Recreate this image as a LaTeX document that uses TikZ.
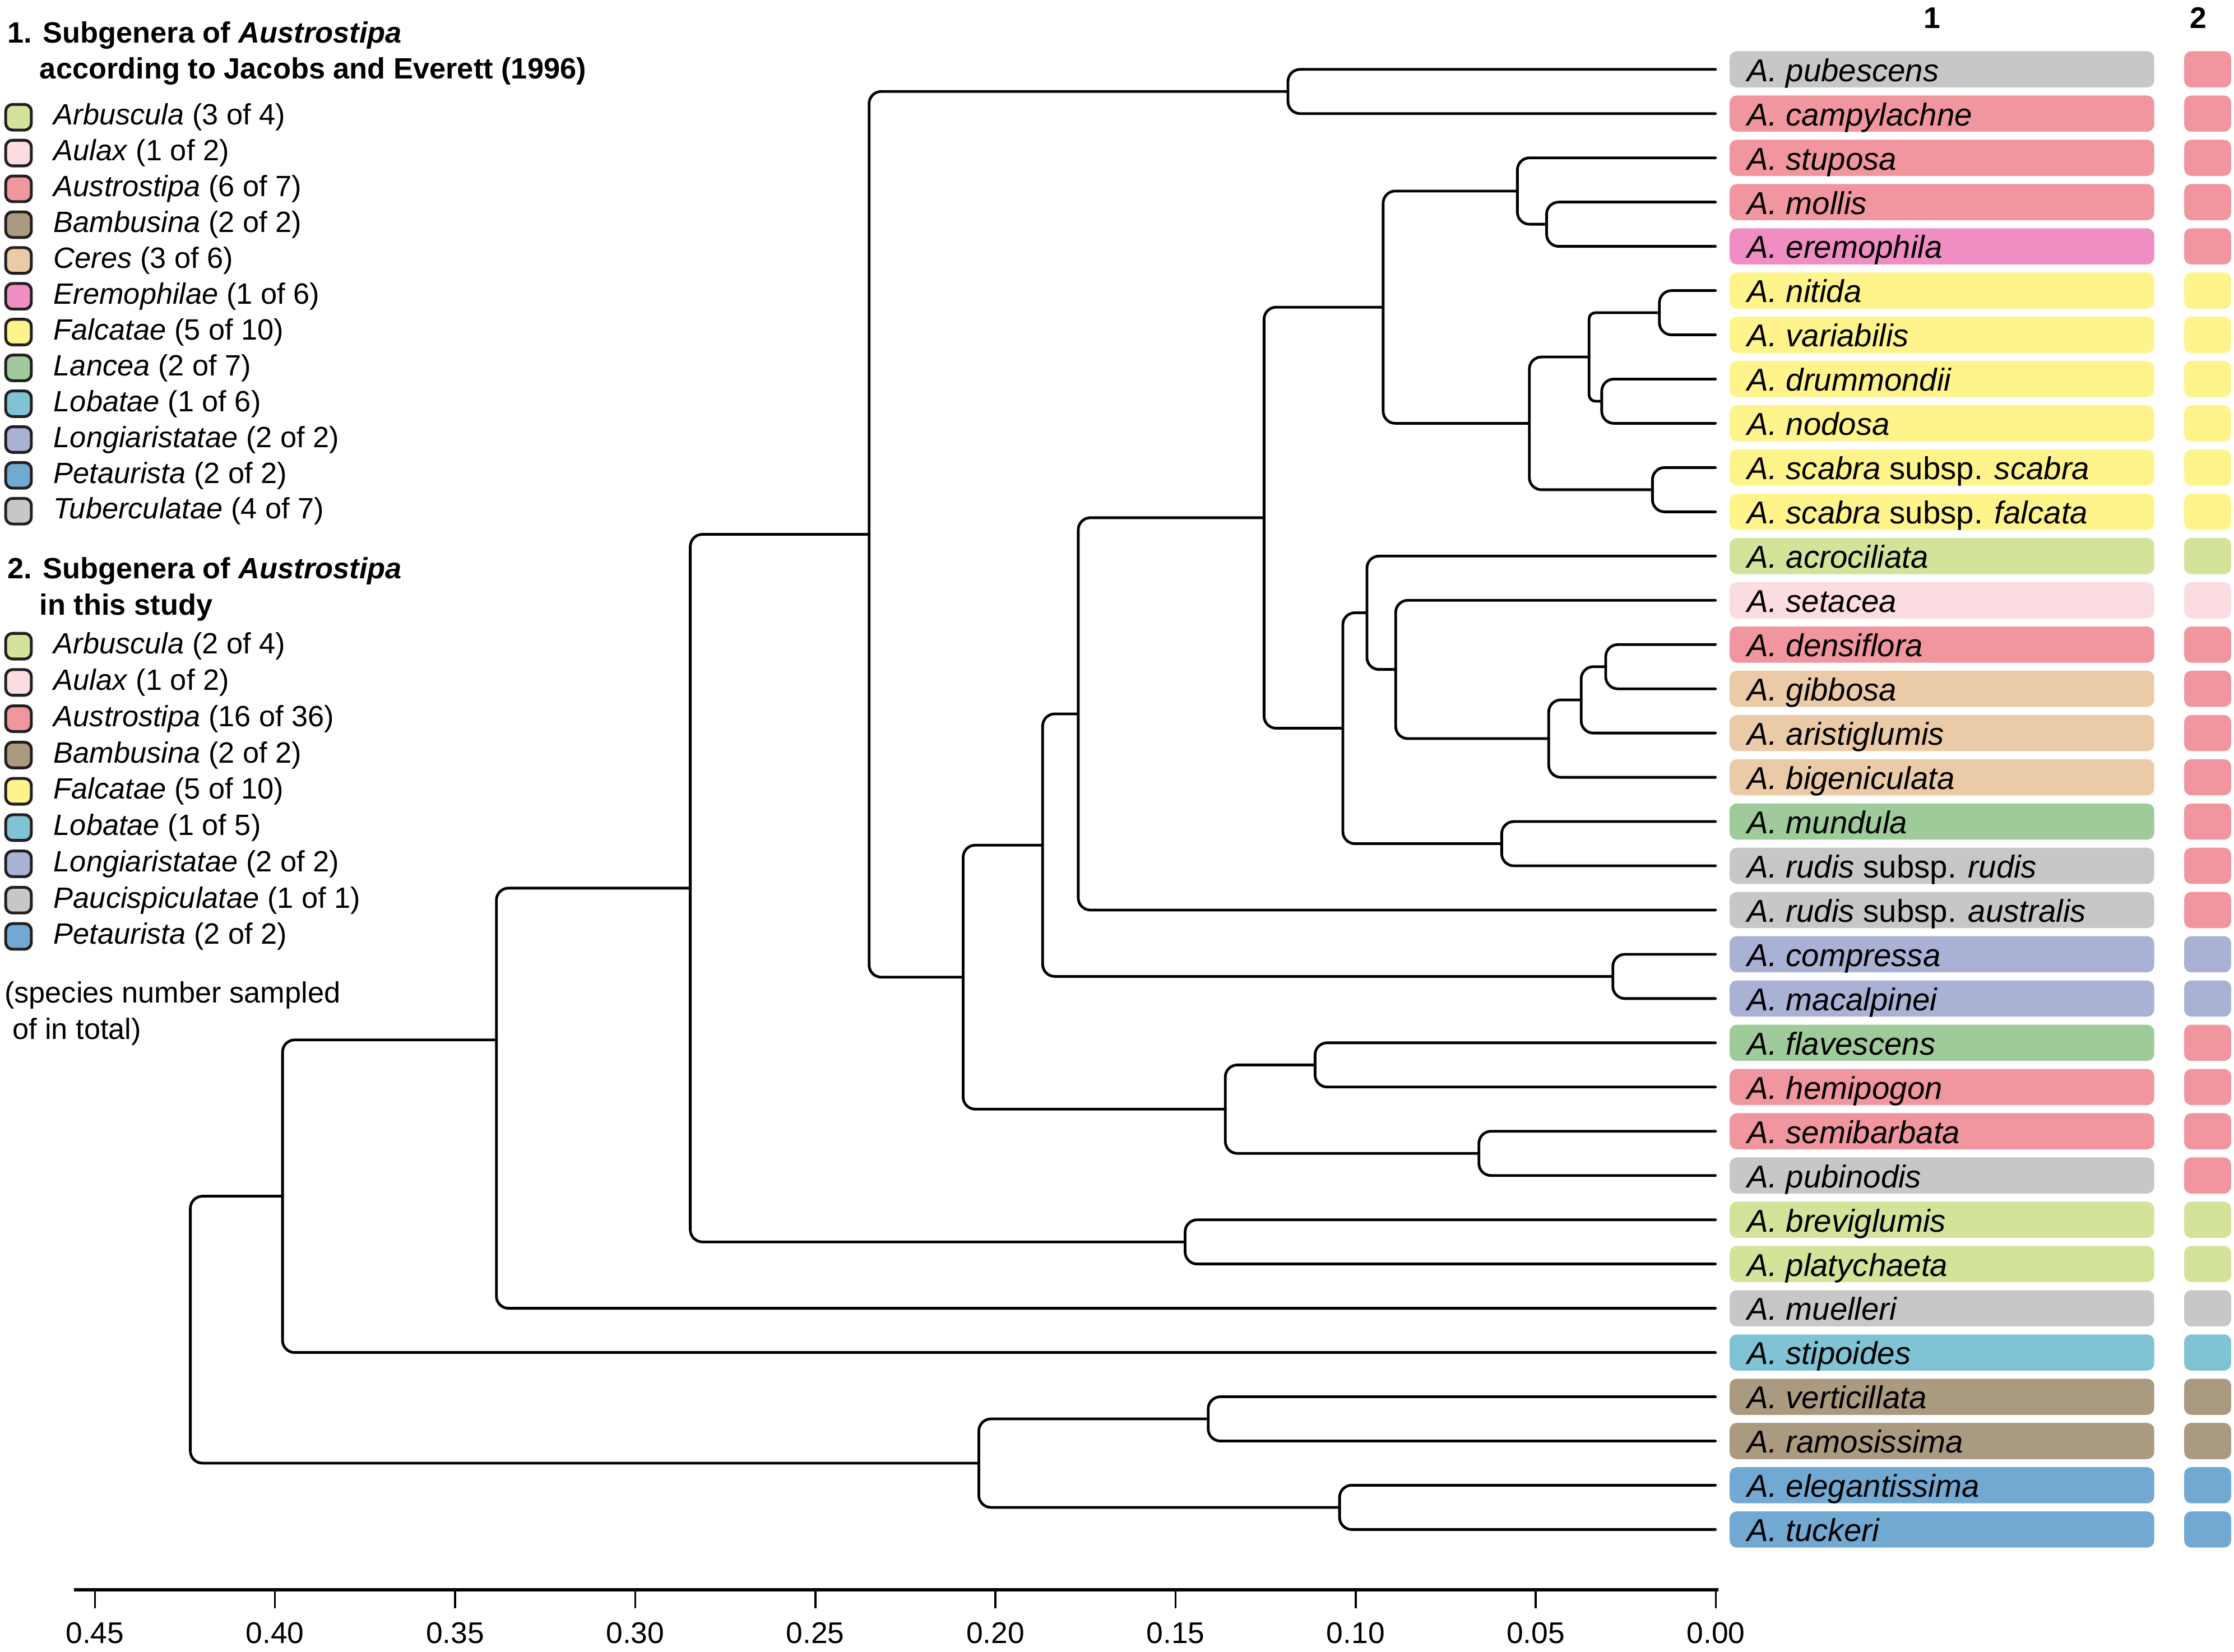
\documentclass[tikz,border=0pt]{standalone}
\usepackage{fontspec}
\setmainfont{Liberation Sans}
\usetikzlibrary{calc}
\definecolor{cGray}{HTML}{C6C7C9}
\definecolor{cPink}{HTML}{F1959E}
\definecolor{cErem}{HTML}{F08DC3}
\definecolor{cYel}{HTML}{FFF48B}
\definecolor{cArb}{HTML}{D3E39A}
\definecolor{cAul}{HTML}{FADCE1}
\definecolor{cCer}{HTML}{EBCBA7}
\definecolor{cLan}{HTML}{9FCB9A}
\definecolor{cLon}{HTML}{A9B1D4}
\definecolor{cLob}{HTML}{80C3D4}
\definecolor{cBam}{HTML}{AA9A80}
\definecolor{cPet}{HTML}{72A9D2}
\definecolor{outl}{HTML}{231F20}
\tikzset{
  branch/.style={line width=0.95pt, line cap=round, line join=round},
  taxbox/.style={draw=none, rounded corners=2.5pt, minimum height=12.7pt, inner sep=0pt, outer sep=0pt},
  sptext/.style={anchor=base west, inner sep=0pt, font=\fontsize{11.1}{13}\selectfont},
  legsq/.style={draw=outl, line width=1pt, rounded corners=2.4pt, minimum size=9pt, inner sep=0pt},
  legtext/.style={anchor=base west, inner sep=0pt, font=\fontsize{10.3}{12}\selectfont},
  legtitle/.style={anchor=base west, inner sep=0pt, font=\fontsize{10.3}{12}\selectfont\bfseries},
  axisline/.style={line width=1pt},
  ticktext/.style={inner sep=0pt, font=\fontsize{10.5}{12}\selectfont},
  headtext/.style={inner sep=0pt, font=\fontsize{10.5}{12}\selectfont\bfseries}
}
% draw the two branches of a clade: #1 node, #2 upper child, #3 lower child
\newcommand\drawclade[3]{%
  \draw[branch] let \p1=(#2), \p2=(#3), \p3=(#1),
    \n1={min(4.25,0.5*(\x1-\x3),0.5*(\x2-\x3))} in
    [rounded corners=\n1] (#2) -- (#2 -| #1) -- (#3 -| #1) -- (#3);
}
% clade with node at given x and midpoint height: #1 name, #2 x, #3 upper, #4 lower
\newcommand\clade[4]{%
  \path let \p1=(#3), \p2=(#4) in coordinate (#1) at ({#2*0.5pt},{0.5*(\y1+\y2)});
  \drawclade{#1}{#3}{#4}%
}
\begin{document}
\begin{tikzpicture}[x=0.5pt,y=-0.5pt]
\useasboundingbox (0,0) rectangle (1568,1159.3);

% column headers
\node[headtext] (h1) at (1356,12.5) {1};
\node[headtext] (h2) at (1543,12.5) {2};

% taxa
\foreach \i/\nm/\ca/\cb in {
0/{\textit{A. pubescens}}/cGray/cPink,
1/{\textit{A. campylachne}}/cPink/cPink,
2/{\textit{A. stuposa}}/cPink/cPink,
3/{\textit{A. mollis}}/cPink/cPink,
4/{\textit{A. eremophila}}/cErem/cPink,
5/{\textit{A. nitida}}/cYel/cYel,
6/{\textit{A. variabilis}}/cYel/cYel,
7/{\textit{A. drummondii}}/cYel/cYel,
8/{\textit{A. nodosa}}/cYel/cYel,
9/{\textit{A. scabra} subsp. \textit{scabra}}/cYel/cYel,
10/{\textit{A. scabra} subsp. \textit{falcata}}/cYel/cYel,
11/{\textit{A. acrociliata}}/cArb/cArb,
12/{\textit{A. setacea}}/cAul/cAul,
13/{\textit{A. densiflora}}/cPink/cPink,
14/{\textit{A. gibbosa}}/cCer/cPink,
15/{\textit{A. aristiglumis}}/cCer/cPink,
16/{\textit{A. bigeniculata}}/cCer/cPink,
17/{\textit{A. mundula}}/cLan/cPink,
18/{\textit{A. rudis} subsp. \textit{rudis}}/cGray/cPink,
19/{\textit{A. rudis} subsp. \textit{australis}}/cGray/cPink,
20/{\textit{A. compressa}}/cLon/cLon,
21/{\textit{A. macalpinei}}/cLon/cLon,
22/{\textit{A. flavescens}}/cLan/cPink,
23/{\textit{A. hemipogon}}/cPink/cPink,
24/{\textit{A. semibarbata}}/cPink/cPink,
25/{\textit{A. pubinodis}}/cGray/cPink,
26/{\textit{A. breviglumis}}/cArb/cArb,
27/{\textit{A. platychaeta}}/cArb/cArb,
28/{\textit{A. muelleri}}/cGray/cGray,
29/{\textit{A. stipoides}}/cLob/cLob,
30/{\textit{A. verticillata}}/cBam/cBam,
31/{\textit{A. ramosissima}}/cBam/cBam,
32/{\textit{A. elegantissima}}/cPet/cPet,
33/{\textit{A. tuckeri}}/cPet/cPet}
{
  \pgfmathsetmacro\yy{48.7+31.06*\i}
  \node[taxbox, fill=\ca, minimum width=149pt] (b\i) at (1363,\yy) {};
  \node[taxbox, fill=\cb, minimum width=16.5pt] (c\i) at (1549.5,\yy) {};
  \node[sptext] (t\i) at (1226,\yy+8.4) {\nm};
  \coordinate (l\i) at (1204,\yy);
}

% tree
\clade{npc}{904}{l0}{l1}
\clade{nme}{1085.5}{l3}{l4}
\clade{nsme}{1065}{l2}{nme}
\clade{nnv}{1164.7}{l5}{l6}
\clade{ndn}{1124.2}{l7}{l8}
\clade{nnvdn}{1115.3}{nnv}{ndn}
\clade{nss}{1159.8}{l9}{l10}
\clade{nfal}{1073.4}{nnvdn}{nss}
\clade{nsf}{970.8}{nsme}{nfal}
\clade{ndg}{1127}{l13}{l14}
\clade{ndga}{1109.8}{ndg}{l15}
\clade{ndgab}{1087}{ndga}{l16}
\clade{nset}{979.6}{l12}{ndgab}
\clade{nacro}{959.4}{l11}{nset}
\clade{nmr}{1054}{l17}{l18}
\clade{nam}{942.5}{nacro}{nmr}
\clade{nbig}{887.2}{nsf}{nam}
\clade{nra}{756.8}{nbig}{l19}
\clade{ncm}{1132}{l20}{l21}
\clade{nracm}{731.8}{nra}{ncm}
\clade{nfh}{923}{l22}{l23}
\clade{nsp}{1038}{l24}{l25}
\clade{nfhsp}{860}{nfh}{nsp}
\clade{nmid}{676}{nracm}{nfhsp}
\clade{ntop}{610}{npc}{nmid}
\clade{nbp}{831.8}{l26}{l27}
\clade{na}{484.5}{ntop}{nbp}
\coordinate (nb) at (348.4,730);
\drawclade{nb}{na}{l28}
\clade{nc}{198.3}{nb}{l29}
\clade{nvr}{848}{l30}{l31}
\clade{net}{940.2}{l32}{l33}
\clade{nve}{687}{nvr}{net}
\clade{root}{133.6}{nc}{nve}

% axis
\coordinate (axL) at (52,1116);
\coordinate (axR) at (1206,1116);
\draw[axisline] (axL) -- (axR);
\foreach \k/\lab in {0/0.00,1/0.05,2/0.10,3/0.15,4/0.20,5/0.25,6/0.30,7/0.35,8/0.40,9/0.45}{
  \pgfmathsetmacro\xx{1204.3-126.41*\k}
  \coordinate (tk\k) at (\xx,1116);
  \coordinate (tb\k) at (\xx,1129);
  \draw[line width=0.7pt] (tk\k) -- (tb\k);
  \node[ticktext] (tl\k) at (\xx,1146.5) {\lab};
}

% legend 1
\node[legtitle] (lt1a) at (5,30.1) {1. Subgenera of \textit{Austrostipa}};
\node[legtitle] (lt1b) at (27.5,55.1) {according to Jacobs and Everett (1996)};
\foreach \k/\nm/\c in {
0/{\textit{Arbuscula} (3 of 4)}/cArb,
1/{\textit{Aulax} (1 of 2)}/cAul,
2/{\textit{Austrostipa} (6 of 7)}/cPink,
3/{\textit{Bambusina} (2 of 2)}/cBam,
4/{\textit{Ceres} (3 of 6)}/cCer,
5/{\textit{Eremophilae} (1 of 6)}/cErem,
6/{\textit{Falcatae} (5 of 10)}/cYel,
7/{\textit{Lancea} (2 of 7)}/cLan,
8/{\textit{Lobatae} (1 of 6)}/cLob,
9/{\textit{Longiaristatae} (2 of 2)}/cLon,
10/{\textit{Petaurista} (2 of 2)}/cPet,
11/{\textit{Tuberculatae} (4 of 7)}/cGray}
{
  \pgfmathsetmacro\yy{82.3+25.14*\k}
  \node[legsq, fill=\c] (sa\k) at (13,\yy) {};
  \node[legtext] (la\k) at (37.3,\yy+5.4) {\nm};
}

% legend 2
\node[legtitle] (lt2a) at (5,406.2) {2. Subgenera of \textit{Austrostipa}};
\node[legtitle] (lt2b) at (27.5,431.7) {in this study};
\foreach \k/\nm/\c in {
0/{\textit{Arbuscula} (2 of 4)}/cArb,
1/{\textit{Aulax} (1 of 2)}/cAul,
2/{\textit{Austrostipa} (16 of 36)}/cPink,
3/{\textit{Bambusina} (2 of 2)}/cBam,
4/{\textit{Falcatae} (5 of 10)}/cYel,
5/{\textit{Lobatae} (1 of 5)}/cLob,
6/{\textit{Longiaristatae} (2 of 2)}/cLon,
7/{\textit{Paucispiculatae} (1 of 1)}/cGray,
8/{\textit{Petaurista} (2 of 2)}/cPet}
{
  \pgfmathsetmacro\yy{453.6+25.47*\k}
  \node[legsq, fill=\c] (sb\k) at (13,\yy) {};
  \node[legtext] (lb\k) at (37.3,\yy+5.4) {\nm};
}

\node[legtext] (note1) at (2.8,704) {(species number sampled};
\node[legtext] (note2) at (8.3,729.4) {of in total)};
\end{tikzpicture}
\end{document}
